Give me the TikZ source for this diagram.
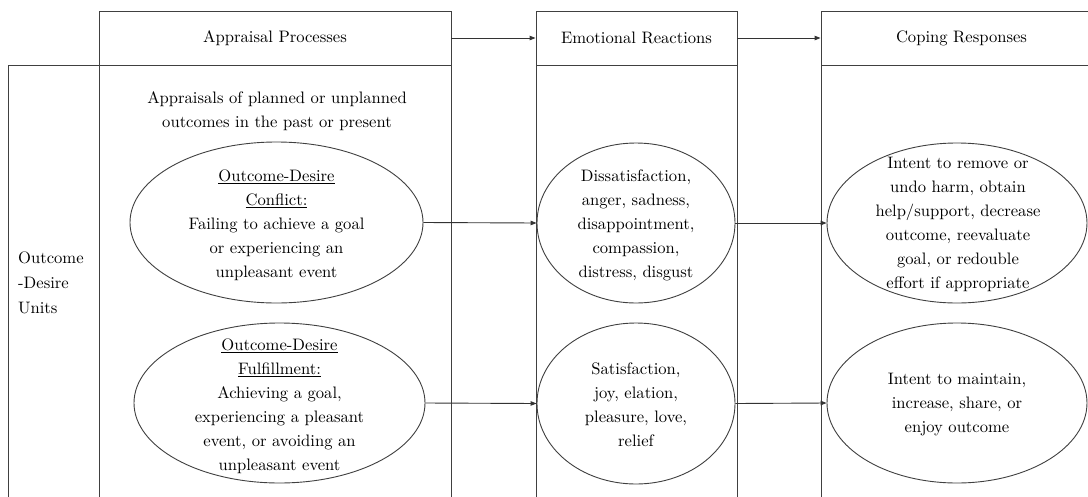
\documentclass[tikz,border=0pt]{standalone}
\usepackage{fontspec}
\setmainfont{lmroman10-regular.otf}
\usetikzlibrary{shapes.geometric,arrows.meta}
\begin{document}
\begin{tikzpicture}[x=1pt,y=-1pt,
  line/.style={draw=black!75, line width=0.9pt},
  hdr/.style={line, rectangle, inner sep=0pt, font=\fontsize{16.6}{24}\selectfont},
  col/.style={line, rectangle, inner sep=0pt},
  oval/.style={line, ellipse, inner sep=0pt},
  arr/.style={draw=black!80, line width=0.9pt, -{Triangle[length=6pt,width=4.5pt]}},
  txt/.style={align=center, inner sep=0pt, font=\fontsize{16.6}{24}\selectfont},
  ltxt/.style={align=left, inner sep=0pt, font=\fontsize{16.6}{25}\selectfont}]
\useasboundingbox (0,0) rectangle (1088,496);
\fill[white] (0,0) rectangle (1088,496);

% headers
\node[hdr, minimum width=352pt, minimum height=54pt] (hA) at (275,38) {Appraisal Processes};
\node[hdr, minimum width=201pt, minimum height=54pt] (hE) at (636.5,38) {Emotional Reactions};
\node[hdr, minimum width=281pt, minimum height=54pt] (hC) at (961.5,38) {Coping Responses};

% columns
\node[col, minimum width=91pt, minimum height=445pt, anchor=north] (cL) at (53.5,65) {};
\node[col, minimum width=352pt, minimum height=445pt, anchor=north] (cA) at (275,65) {};
\node[col, minimum width=201pt, minimum height=445pt, anchor=north] (cE) at (636.5,65) {};
\node[col, minimum width=281pt, minimum height=445pt, anchor=north] (cC) at (961.5,65) {};

% left label
\node[ltxt, anchor=west] (lbl) at (18,283) {Outcome\\-Desire\\Units};

% top text
\node[txt] (top) at (277,111.5) {Appraisals of planned or unplanned\\outcomes in the past or present};

% ellipses
\node[oval, minimum width=293pt, minimum height=161pt] (a1) at (276.5,222.5) {};
\node[oval, minimum width=291pt, minimum height=160pt] (a2) at (279.5,403) {};
\node[oval, minimum width=198pt, minimum height=160pt] (e1) at (636,223) {};
\node[oval, minimum width=198pt, minimum height=161pt] (e2) at (636,403.5) {};
\node[oval, minimum width=260pt, minimum height=160pt] (c1) at (957,223) {};
\node[oval, minimum width=260pt, minimum height=160pt] (c2) at (957,403) {};

% ellipse texts
\node[txt] (ta1) at (276.5,225) {\underline{Outcome-Desire}\\\underline{Conflict:}\\Failing to achieve a goal\\or experiencing an\\unpleasant event};
\node[txt] (ta2) at (279.5,406) {\underline{Outcome-Desire}\\\underline{Fulfillment:}\\Achieving a goal,\\experiencing a pleasant\\event, or avoiding an\\unpleasant event};
\node[txt] (te1) at (636,225.5) {Dissatisfaction,\\anger, sadness,\\disappointment,\\compassion,\\distress, disgust};
\node[txt] (te2) at (636,405) {Satisfaction,\\joy, elation,\\pleasure, love,\\relief};
\node[txt] (tc1) at (958,224) {Intent to remove or\\undo harm, obtain\\help/support, decrease\\outcome, reevaluate\\goal, or redouble\\effort if appropriate};
\node[txt] (tc2) at (957,405) {Intent to maintain,\\increase, share, or\\enjoy outcome};

% arrows
\draw[arr] (hA.east) -- (hE.west);
\draw[arr] (hE.east) -- (hC.west);
\draw[arr] (a1.east) -- (e1.west);
\draw[arr] (a2.east) -- (e2.west);
\draw[arr] (e1.east) -- (c1.west);
\draw[arr] (e2.east) -- (c2.west);
\end{tikzpicture}
\end{document}
